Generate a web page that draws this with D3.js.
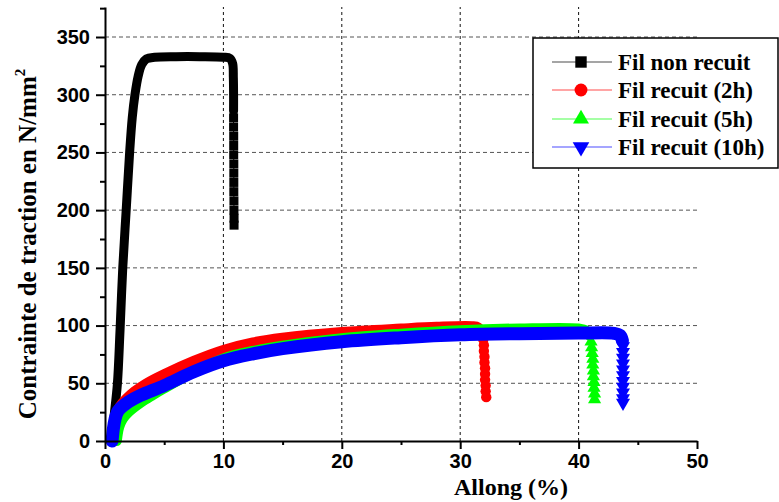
<!DOCTYPE html>
<html>
<head>
<meta charset="utf-8">
<script src="https://cdn.jsdelivr.net/npm/d3@7"></script>
<style>
  html, body { margin: 0; padding: 0; background: #fff; }
  svg { display: block; }
</style>
</head>
<body>
<svg id="chart" width="779" height="502"></svg>
<script>
// ---------- DATA ----------
const seriesNames = ["Fil non recuit", "Fil recuit (2h)", "Fil recuit (5h)", "Fil recuit (10h)"];
const seriesColors = ["#000000", "#ff0000", "#00ff00", "#0000ff"];

// continuous (dense-marker) part of each curve: [allongement %, contrainte N/mm2]
const blackCurve = [[0.5,0],[0.8,25],[1.05,50],[1.27,96],[1.5,150],[1.79,200],[2.08,250],[2.3,280],[2.53,300],[2.8,316],[3.1,326],[3.5,331],[4.2,332.5],[6,333],[8,333],[10,332.5],[10.55,331.5],[10.78,327],[10.84,315],[10.86,300],[10.86,286]];
const redCurve = [[0.6,0],[0.75,12],[0.95,22],[1.3,30],[1.8,36],[2.5,42.5],[3.5,49.5],[5,57.5],[7.5,69],[10,78.5],[12.5,85],[15,89],[20,94],[25,97],[28,98.5],[31,99],[31.5,98],[31.85,93]];
const greenCurve = [[1.0,0],[1.2,12],[1.5,19],[2,25],[3,33],[4,39.5],[5,45.5],[7.5,59.5],[10,71.5],[12.5,78],[15,82.5],[20,89],[25,93],[30,96],[35,97.5],[40,97.5],[40.6,96],[40.95,91]];
const blueCurve = [[0.6,0],[0.7,10],[0.85,19],[1.1,26],[1.6,31],[2,34],[3,39.5],[5,48],[7.5,60],[10,69.5],[12.5,75.5],[15,80],[20,86],[25,89.5],[30,92],[35,93],[40,93.5],[43,93.3],[43.5,91.5],[43.7,87]];

// fracture part: individual markers
const blackDrop = [[10.86,280],[10.86,272],[10.87,264],[10.87,256],[10.87,248],[10.88,240],[10.88,232],[10.88,224],[10.88,216],[10.89,208],[10.89,200],[10.9,193],[10.9,187]];
const redDrop = [[31.95,88],[32.0,83],[32.0,78],[32.05,73],[32.05,68],[32.1,63],[32.1,58],[32.1,53],[32.15,48],[32.15,43],[32.2,38]];
const greenDrop = [[41.05,86],[41.1,81],[41.15,76],[41.2,71],[41.2,66],[41.25,61],[41.25,56],[41.3,51],[41.3,46],[41.35,41],[41.35,36]];
const blueDrop = [[43.75,82],[43.75,77],[43.75,72],[43.75,67],[43.75,62],[43.75,57],[43.75,52],[43.75,47],[43.75,42],[43.75,37],[43.75,33]];

const xTicks = [0, 10, 20, 30, 40, 50];
const xMinorTicks = [5, 15, 25, 35, 45];
const yTicks = [0, 50, 100, 150, 200, 250, 300, 350];
const yMinorTicks = [25, 75, 125, 175, 225, 275, 325, 375];
const xGrid = [10, 20, 30, 40];
const yGrid = [50, 100, 150, 200, 250, 300, 350];

const xTitle = "Allong (%)";
const yTitle = "Contrainte de traction en N/mm";
const yTitleSup = "2";

// ---------- LAYOUT ----------
const svg = d3.select("#chart");
const x = d3.scaleLinear().domain([0, 50]).range([105, 697]);
const y = d3.scaleLinear().domain([0, 376]).range([441, 7]);

// grid
const grid = svg.append("g");
grid.selectAll("line.vg").data(xGrid).join("line")
  .attr("x1", d => x(d)).attr("x2", d => x(d))
  .attr("y1", y(0)).attr("y2", y(376))
  .attr("stroke", "#111").attr("stroke-width", 1).attr("stroke-dasharray", "3,3");
grid.selectAll("line.hg").data(yGrid).join("line")
  .attr("x1", x(0)).attr("x2", x(50))
  .attr("y1", d => y(d)).attr("y2", d => y(d))
  .attr("stroke", "#555").attr("stroke-width", 1).attr("stroke-dasharray", "4,3");

// curves
const band = d3.line().x(d => x(d[0])).y(d => y(d[1])).curve(d3.curveCatmullRom.alpha(0.5));
const line = d3.line().x(d => x(d[0])).y(d => y(d[1])).curve(d3.curveLinear);
const curves = [blackCurve, redCurve, greenCurve, blueCurve];
const drops = [blackDrop, redDrop, greenDrop, blueDrop];
const bandWidths = [9, 11, 10, 13];
const symTypes = [d3.symbolSquare, d3.symbolCircle, d3.symbolTriangle, d3.symbolTriangle];
const symSizes = [81, 85, 75, 85];
const symRot = [0, 0, 0, 180];

const plot = svg.append("g");
curves.forEach((c, i) => {
  const g = plot.append("g");
  g.append("path").datum(c).attr("d", band)
    .attr("fill", "none").attr("stroke", seriesColors[i])
    .attr("stroke-width", bandWidths[i])
    .attr("stroke-linejoin", "round").attr("stroke-linecap", "round");
  g.append("path").datum([c[c.length - 1]].concat(drops[i])).attr("d", line)
    .attr("fill", "none").attr("stroke", seriesColors[i]).attr("stroke-width", 1);
  g.selectAll("path.m").data(drops[i]).join("path")
    .attr("d", d3.symbol().type(symTypes[i]).size(symSizes[i]))
    .attr("transform", d => `translate(${x(d[0])},${y(d[1])}) rotate(${symRot[i]})`)
    .attr("fill", seriesColors[i]);
});

// axes
svg.append("g").attr("transform", `translate(0,${y(0)})`)
  .call(d3.axisBottom(x).tickValues(xTicks).tickSize(8).tickSizeOuter(0).tickPadding(5));
svg.append("g").attr("transform", `translate(0,${y(0)})`)
  .call(d3.axisBottom(x).tickValues(xMinorTicks).tickSize(4).tickSizeOuter(0).tickFormat(""))
  .call(g => g.select(".domain").remove());
svg.append("g").attr("transform", `translate(${x(0)},0)`)
  .call(d3.axisLeft(y).tickValues(yTicks).tickSize(9).tickSizeOuter(0).tickPadding(6));
svg.append("g").attr("transform", `translate(${x(0)},0)`)
  .call(d3.axisLeft(y).tickValues(yMinorTicks).tickSize(5).tickSizeOuter(0).tickFormat(""))
  .call(g => g.select(".domain").remove());

svg.selectAll(".domain").attr("stroke", "#000").attr("stroke-width", 2);
svg.selectAll(".tick line").attr("stroke", "#000").attr("stroke-width", 2);
svg.selectAll(".tick text").attr("font-family", "'Liberation Sans', Arial, sans-serif")
  .attr("font-weight", "bold").attr("font-size", 20).attr("fill", "#000");

// axis titles
svg.append("text").attr("x", 511).attr("y", 495)
  .attr("text-anchor", "middle")
  .attr("font-family", "'Liberation Serif', 'Times New Roman', serif")
  .attr("font-weight", "bold").attr("font-size", 24).text(xTitle);

const yt = svg.append("text")
  .attr("transform", "translate(36,244) rotate(-90)")
  .attr("text-anchor", "middle")
  .attr("font-family", "'Liberation Serif', 'Times New Roman', serif")
  .attr("font-weight", "bold").attr("font-size", 25);
yt.append("tspan").text(yTitle);
yt.append("tspan").attr("font-size", 15).attr("dy", -11).text(yTitleSup);

// legend
const lg = svg.append("g");
lg.append("rect").attr("x", 533).attr("y", 38).attr("width", 245).attr("height", 130)
  .attr("fill", "#fff").attr("stroke", "#000").attr("stroke-width", 1.5);
const legY = [62, 90, 119, 147];
const legSizes = [130, 130, 110, 120];
seriesNames.forEach((name, i) => {
  const cy = legY[i];
  lg.append("line").attr("x1", 552).attr("x2", 612).attr("y1", cy).attr("y2", cy)
    .attr("stroke", seriesColors[i]).attr("stroke-width", 1).attr("opacity", 0.7);
  lg.append("path")
    .attr("d", d3.symbol().type(symTypes[i]).size(legSizes[i]))
    .attr("transform", `translate(581,${cy}) rotate(${symRot[i]})`)
    .attr("fill", seriesColors[i]);
  lg.append("text").attr("x", 618).attr("y", cy + 8)
    .attr("font-family", "'Liberation Serif', 'Times New Roman', serif")
    .attr("font-weight", "bold").attr("font-size", 23).text(name);
});
</script>
</body>
</html>
